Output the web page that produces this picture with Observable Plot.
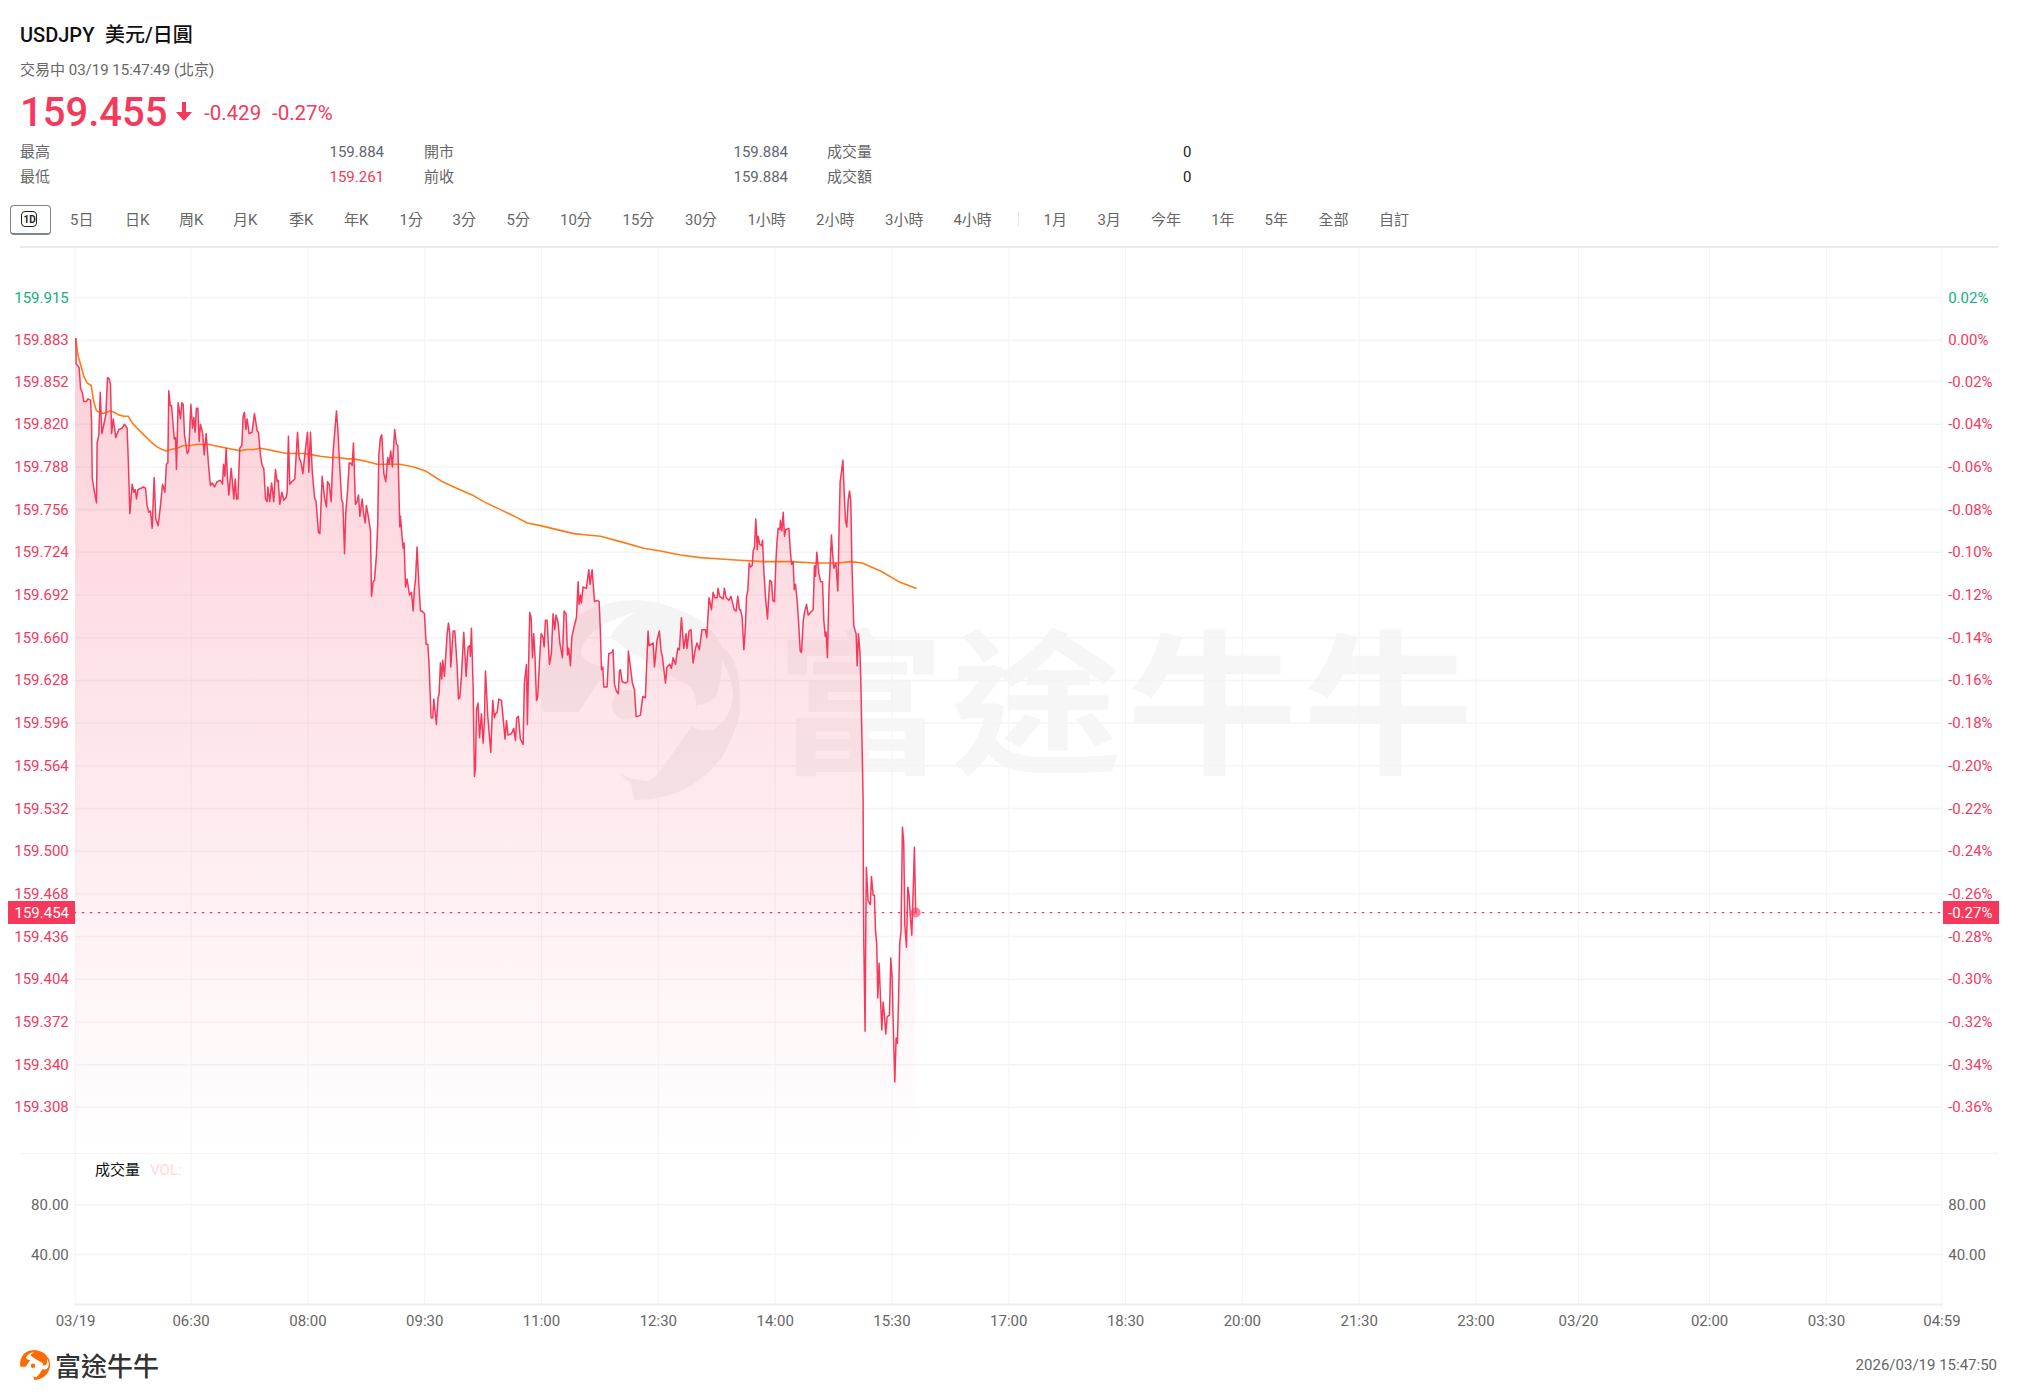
<!DOCTYPE html>
<html lang="zh-Hant">
<head>
<meta charset="utf-8">
<title>USDJPY</title>
<script src="https://cdn.jsdelivr.net/npm/d3@7"></script>
<script src="https://cdn.jsdelivr.net/npm/@observablehq/plot@0.6"></script>
<style>
html,body{margin:0;padding:0;background:#fff;}
#page{position:relative;width:2018px;height:1399px;overflow:hidden;font-family:Roboto,"Noto Sans CJK TC",sans-serif;color:#666;}
.t{position:absolute;white-space:pre;line-height:1;}
.c{transform:translateY(-50%);}
svg.chart{position:absolute;left:0;z-index:2;}
</style>
</head>
<body>
<div id="page"></div>
<script>
// minutes after 05:00 on 03/19
const priceMinutes = [
1.2,1.4,2.7,3.8,4.8,6.1,7.3,9.4,10.4,12.5,13.3,13.8,15,17.1,17.6,18.9,20,21.2,22.8,24.3,25.6,26.9,27.9,28.7,30,32,34.3,36.9,38.7,40.7,41.8,42.8,44.6,45.9,46.9,47.9,49,51.5,53.1,54.9,56.1,57.4,58.7,60,61.5,62.8,64.6,66.4,68,69.8,71,72.1,72.8,73.9,74.9,77,78,78.7,80,81.8,82.8,83.9,84.9,87,88.2,89.8,91.1,92.1,93.1,94.1,95.2,96.2,97.2,98.8,100.1,101.6,103.6,104.9,106.2,108,110.1,112.6,114.2,115,116,117,118,119.1,120.9,122.9,124,125,126,127.5,129.1,130.1,131.1,132.2,133.2,134.7,137,138.8,140.9,141.9,143.4,144.7,146,147.3,148.6,149.1,150.6,152,153.7,155,156.3,157.1,158.3,159.9,161.4,163.2,164,165,166,167.9,169.9,172,173.2,174.8,176.1,178.1,179.7,180.7,182,183.3,185.1,186.3,188.1,189.2,191,192.8,194.3,195.1,196.4,197.9,199.4,202,203,204.6,205.9,206.9,208.2,209.2,210.7,211.8,212.8,214.1,215.1,216.6,217.9,219,220,221.8,222.8,224.1,225.1,226.7,228.2,229,230.3,231.3,232.8,233.8,234.6,235.9,236.9,238.5,240,241.5,242.6,243.8,245.1,246.9,248.2,249.3,250.8,
251.3,252.6,253.4,254.1,255.2,256.4,258.2,259.8,261.1,262.1,262.9,264.1,265.4,266.7,268,269.8,271.1,272.4,273.4,274.9,276.2,277,279,280.3,281.1,282.1,283.1,283.9,285.2,287.3,288.3,289.3,290.1,291.9,293.2,295,296,297,298.3,300.1,301.9,303.4,304.7,305.2,306,307.3,308.3,309.1,309.9,311.1,312.2,313.7,315,316,316.8,318.6,320.9,322.4,323.7,324.5,325.8,327.1,329.1,330.6,331.9,333,334.2,336.8,338.6,339.9,340.9,342.2,343.7,345.8,346.8,348.4,349.1,350.9,352,353,354,355,356.1,357.1,358.6,359.7,361.2,362,363,364.3,366.1,367.6,368.9,370.2,371.2,372.8,374.1,376.1,377.4,378.9,380,381,382.3,383.3,384.8,386.9,388.2,388.9,390,390.7,392,394.6,396.4,397.4,399,400.8,402.8,404.4,405.4,406.2,407.2,408,410.5,411.8,414.4,415.1,416.2,417.7,419.2,420,420.8,422.1,424.6,426.4,426.9,428.5,430,431.6,432.9,434.1,436.2,438,440,442.1,442.9,446,447,449,450.8,452.1,453.1,455.5,456.7,458.8,460.1,461.4,463.2,465,466.2,467.8,469.6,471.4,472.1,473.7,475.2,476.8,478.6,479.8,481.6,483.7,486.3,487.3,489.1,490.9,492.2,493.5,495.3,496,497.3,499.9,500.9,502.2,504.3,506,508.4,509.9,511.2,512.5,
513.3,514.6,515.9,517.2,517.9,519,520,521,522.3,523.1,524.1,525.1,526.2,526.9,528.2,529.5,530.3,531.3,532.6,534.1,535.1,535.9,537.2,538.2,539.5,540.5,541.3,542.3,543.6,544.1,545.2,546.2,547.2,548.2,550.6,551.8,552.6,553.9,554.7,555.7,557.2,558.3,559.3,560.3,561.6,562.6,564.2,565.5,567.3,569.3,570.3,571.1,572.1,573.7,575,576.5,577.5,578.6,579.3,580.3,581.4,582.4,583.4,584.2,585.2,586.8,588.3,589.3,590.1,591.1,592.2,593.4,594.2,595.2,596.3,597.3,598.3,599.1,599.9,600.6,601.7,602.4,603.2,604.2,605.3,606,
607.8,608,608.3,609.3,609.8,610.3,611.6,612.6,613.4,614.2,615.5,616.5,617.3,618.3,619.1,620.1,621.1,622.2,623.2,624.2,625.2,626.3,628.1,629.1,630.1,631.1,632.2,633.2,634.2,635.2,636,637,638.1,639.1,639.9,641.2,642.2,643.2,644.2,645.3,646.3,647.3,648.3];
const priceValues = [
159.884,159.865,159.864,159.862,159.847,159.844,159.837,159.837,159.839,159.838,159.822,159.780,159.772,159.761,159.806,159.812,159.844,159.813,159.820,159.827,159.855,159.854,159.850,159.813,159.824,159.810,159.816,159.817,159.820,159.817,159.787,159.753,159.775,159.769,159.771,159.764,159.771,159.772,159.773,159.772,159.759,159.754,159.755,159.742,159.780,159.749,159.744,159.759,159.775,159.769,159.790,159.791,159.845,159.834,159.834,159.809,159.810,159.786,159.836,159.824,159.836,159.835,159.812,159.798,159.800,159.835,159.817,159.825,159.814,159.832,159.832,159.807,159.820,159.814,159.797,159.813,159.787,159.774,159.776,159.773,159.777,159.778,159.775,159.790,159.781,159.802,159.780,159.767,159.787,159.764,159.779,159.764,159.764,159.802,159.804,159.826,159.829,159.816,159.824,159.813,159.814,159.828,159.815,159.814,159.797,159.789,159.787,159.764,159.762,159.773,159.762,159.776,159.762,159.786,159.777,159.778,159.760,159.769,159.763,159.765,159.769,159.811,159.775,159.777,159.779,159.814,159.795,159.791,159.783,159.801,159.814,159.784,159.814,159.785,159.765,159.762,159.739,159.738,159.781,159.765,159.758,159.777,159.775,159.762,159.799,159.830,159.817,159.787,159.764,159.761,159.723,159.754,159.772,159.791,159.791,159.789,159.806,159.760,159.762,159.767,159.751,159.764,159.754,159.746,159.759,159.750,159.740,159.691,159.702,159.703,159.722,159.745,159.796,159.810,159.812,159.783,159.777,159.795,159.790,159.800,159.788,159.816,159.805,159.804,159.743,
159.751,159.735,159.727,159.731,159.698,159.704,159.692,159.694,159.680,159.697,159.703,159.728,159.701,159.680,159.680,159.678,159.655,159.655,159.638,159.600,159.600,159.614,159.595,159.615,159.618,159.641,159.629,159.643,159.631,159.663,159.671,159.663,159.638,159.665,159.665,159.638,159.614,159.615,159.631,159.664,159.631,159.653,159.654,159.646,159.667,159.623,159.556,159.563,159.606,159.611,159.585,159.603,159.581,159.598,159.635,159.601,159.574,159.613,159.600,159.603,159.604,159.614,159.613,159.598,159.584,159.598,159.587,159.588,159.592,159.583,159.600,159.601,159.584,159.580,159.626,159.640,159.595,159.679,159.675,159.645,159.663,159.645,159.613,159.616,159.645,159.663,159.660,159.653,159.673,159.673,159.640,159.648,159.678,159.666,159.677,159.671,159.656,159.645,159.680,159.678,159.647,159.652,159.639,159.660,159.667,159.675,159.702,159.685,159.692,159.686,159.698,159.697,159.711,159.700,159.711,159.687,159.688,159.687,159.663,159.636,159.638,159.623,159.623,159.648,159.649,159.651,159.625,159.620,159.618,159.635,159.636,159.627,159.626,159.627,159.650,159.638,159.626,159.621,159.601,159.601,159.602,159.616,159.615,159.665,159.654,159.656,159.638,159.658,159.665,159.650,159.646,159.626,159.638,159.640,159.637,159.645,159.640,159.652,159.651,159.675,159.652,159.663,159.652,159.665,159.666,159.641,159.652,159.656,159.651,159.666,159.666,159.660,159.690,159.681,159.694,159.690,159.690,159.697,159.691,159.689,159.697,159.690,159.688,159.691,159.681,159.680,159.691,159.681,
159.681,159.675,159.651,159.670,159.690,159.696,159.716,159.713,159.714,159.725,159.728,159.749,159.726,159.736,159.730,159.729,159.733,159.710,159.690,159.674,159.691,159.703,159.702,159.688,159.687,159.715,159.730,159.742,159.741,159.748,159.740,159.754,159.736,159.741,159.742,159.724,159.715,159.717,159.696,159.700,159.685,159.668,159.650,159.649,159.672,159.679,159.685,159.677,159.679,159.681,159.714,159.706,159.724,159.708,159.702,159.702,159.673,159.661,159.664,159.645,159.693,159.715,159.737,159.724,159.712,159.716,159.695,159.743,159.777,159.784,159.793,159.764,159.748,159.743,159.763,159.770,159.762,159.718,159.690,159.669,159.665,159.663,159.639,159.663,159.650,159.628,
159.538,159.473,159.433,159.365,159.438,159.488,159.463,159.461,159.460,159.481,159.467,159.467,159.441,159.430,159.390,159.416,159.391,159.366,159.387,159.377,159.363,159.376,159.377,159.420,159.406,159.366,159.327,159.360,159.356,159.393,159.431,159.440,159.518,159.506,159.445,159.428,159.473,159.467,159.451,159.437,159.468,159.503,159.454];
const avgMinutes = [1.2,2.7,4.8,7.3,9.9,13,15,17.1,19.7,22.2,24.8,27.9,30.5,34.3,38.2,41.5,44.6,48.4,53.6,58.7,63.8,67.7,71,74.1,79.2,84.4,89.5,94.6,99.8,103.6,107.5,112.6,117.8,122.9,127.5,133.2,138.3,143.4,148.6,153.7,158.8,164,169.1,176.8,183.3,189.7,197.4,203.8,210.2,215.4,225.6,233.3,243.6,250.8,261.6,270.6,277,283.4,292.4,306.5,315.5,328.3,341.2,348.9,359.2,372,384.8,395.1,405.4,420.8,438.8,451.6,467,482.4,497.8,512.5,531.3,551.8,569.8,587.8,598.1,607.1,621.2,635.3,648.4];
const avgValues = [159.884,159.872,159.865,159.856,159.851,159.849,159.837,159.830,159.829,159.828,159.829,159.830,159.829,159.827,159.826,159.826,159.821,159.817,159.812,159.807,159.803,159.801,159.800,159.801,159.802,159.804,159.804,159.805,159.805,159.805,159.804,159.803,159.802,159.801,159.800,159.801,159.801,159.802,159.801,159.800,159.799,159.798,159.798,159.798,159.797,159.796,159.795,159.795,159.794,159.794,159.792,159.790,159.790,159.790,159.788,159.785,159.781,159.777,159.773,159.767,159.762,159.756,159.750,159.746,159.744,159.741,159.738,159.737,159.736,159.732,159.727,159.725,159.722,159.720,159.719,159.718,159.717,159.717,159.716,159.716,159.717,159.716,159.710,159.702,159.697];
const priceTicks = [159.915,159.883,159.852,159.820,159.788,159.756,159.724,159.692,159.660,159.628,159.596,159.564,159.532,159.500,159.468,159.436,159.404,159.372,159.340,159.308];
const pctLabels = ["0.02%","0.00%","-0.02%","-0.04%","-0.06%","-0.08%","-0.10%","-0.12%","-0.14%","-0.16%","-0.18%","-0.20%","-0.22%","-0.24%","-0.26%","-0.28%","-0.30%","-0.32%","-0.34%","-0.36%"];
const volumeTicks = [40,80];
const timeTicks = [1,90,180,270,360,450,540,630,720,810,900,990,1080,1159,1260,1350,1439];
const timeLabels = ["03/19","06:30","08:00","09:30","11:00","12:30","14:00","15:30","17:00","18:30","20:00","21:30","23:00","03/20","02:00","03:30","04:59"];
const lastPrice = 159.454, lastPct = "-0.27%";
const periodTabs = [["5日",70],["日K",125],["周K",179],["月K",233],["季K",289],["年K",344],["1分",399.5],["3分",452.5],["5分",506.5],["10分",560],["15分",622.5],["30分",685],["1小時",747.4],["2小時",816],["3小時",885],["4小時",953.4],["1月",1043.5],["3月",1097.4],["今年",1151],["1年",1211.2],["5年",1264.5],["全部",1318.5],["自訂",1379]];

const RED = "#f5395c", GREEN = "#10b27d", ORANGE = "#ff7a14", GRID = "#f4f4f5", AXIS = "#666";
const page = document.getElementById("page");
function txt(s, x, y, o = {}) {
  const e = document.createElement("div");
  e.className = "t c";
  e.textContent = s;
  e.style.top = y + "px";
  if (o.right != null) e.style.right = (2018 - o.right) + "px"; else e.style.left = x + "px";
  e.style.fontSize = (o.size || 15) + "px";
  if (o.weight) e.style.fontWeight = o.weight;
  e.style.color = o.color || "#666";
  if (o.family) e.style.fontFamily = o.family;
  if (o.z) e.style.zIndex = o.z;
  page.appendChild(e);
  return e;
}
function box(x, y, w, h, css) {
  const e = document.createElement("div");
  e.style.cssText = `position:absolute;left:${x}px;top:${y}px;width:${w}px;height:${h}px;${css}`;
  page.appendChild(e);
  return e;
}

// Futu mark, used as the page logo and as the watermark
const markPath = "M543 712L579 712L607 668Q575 660 582 647Q590 625 636 612Q620 620 610 637Q640 660 691 687Q702 705 691 727L661 770Q650 785 643 780Q628 780 619 772Q625 780 631 783L634 800Q690 800 722 757Q745 715 740 697Q740 660 722 647Q710 620 679 610Q655 600 637 600Q610 600 588 610Q560 625 552 647Q540 670 540 690ZM722 660Q733 680 733 697Q730 715 722 723Q712 732 704 730Q695 730 691 725Q697 715 697 705Q705 705 716 697Q722 680 722 660ZM612 705A15 15 0 1 0 642 705A15 15 0 1 0 612 705Z";
function mark(x, y, size, color, z) {
  const s = d3.create("svg").attr("viewBox", "540 600 200 200").attr("width", size).attr("height", size)
    .style("position", "absolute").style("left", x + "px").style("top", y + "px").style("z-index", z);
  s.append("path").attr("d", markPath).attr("fill", color).attr("fill-rule", "evenodd");
  page.appendChild(s.node());
}

// Header
txt("USDJPY", 20, 35, {size: 20, weight: 500, color: "#111"});
txt("美元/日圓", 105, 35, {size: 20, weight: 500, color: "#111"});
txt("交易中 03/19 15:47:49 (北京)", 20, 70);
txt("159.455", 20, 113, {size: 40, weight: 500, color: RED});
const arrow = d3.create("svg").attr("width", 18).attr("height", 20).attr("viewBox", "0 0 18 20")
  .style("position", "absolute").style("left", "175px").style("top", "102px");
arrow.append("path").attr("d", "M7 0H11V10H17L9 19L1 10H7Z").attr("fill", RED);
page.appendChild(arrow.node());
txt("-0.429", 204, 113, {size: 20.5, color: RED});
txt("-0.27%", 272, 113, {size: 20.5, color: RED});
[["最高", "159.884", "開市", "159.884", "成交量", "0", 152, "#5f6672"],
 ["最低", "159.261", "前收", "159.884", "成交額", "0", 177, RED]].forEach(([a, b, c, d, e, f, y, col]) => {
  txt(a, 20, y); txt(b, 0, y, {right: 384, color: col});
  txt(c, 424, y); txt(d, 0, y, {right: 788, color: "#5f6672"});
  txt(e, 827, y); txt(f, 0, y, {right: 1191.5, color: "#222"});
});

// Toolbar
box(10, 205, 39, 27, "border:1px solid #7b8494;border-bottom-width:2px;border-radius:4px;background:#fff;");
box(21, 211, 16, 16, "border:1.5px solid #222;border-radius:4px;box-sizing:border-box;");
txt("1D", 23.5, 219.5, {size: 10, weight: 700, color: "#222"});
periodTabs.forEach(([s, x]) => txt(s, x, 220));
box(1018, 212, 1, 14, "background:#e6e6e6;");
box(20, 246, 1978, 2, "background:#e9e9e9;");
box(20, 1152.5, 1978, 1.5, `background:${GRID};`);

// Watermark, behind the transparent charts
mark(540, 600, 200, "#f4f4f4", 1);
const wm = txt("富途牛牛", 775, 693, {size: 155, weight: 700, color: "#f6f6f6", family: '"Noto Sans CJK SC"', z: 1});
wm.style.transform = "translateY(-50%) scaleX(1.1)";
wm.style.transformOrigin = "left center";
wm.style.letterSpacing = "5px";

// Price panel
const priceRows = priceMinutes.map((m, i) => ({m, p: priceValues[i]}));
const avgRows = avgMinutes.map((m, i) => ({m, p: avgValues[i]}));
const yTop = 159.9517, yBase = 159.2734;
const pctByPrice = new Map(priceTicks.map((p, i) => [p, pctLabels[i]]));
const tickColor = d => d > 159.884 ? GREEN : RED;
const fade = () => {
  const defs = d3.create("svg:defs");
  const g = defs.append("linearGradient").attr("id", "priceFade").attr("x1", 0).attr("x2", 0).attr("y1", 0).attr("y2", 1);
  g.append("stop").attr("offset", 0).attr("stop-color", RED).attr("stop-opacity", 0.24);
  g.append("stop").attr("offset", 1).attr("stop-color", RED).attr("stop-opacity", 0);
  return defs.node();
};
const common = {
  width: 2018, marginLeft: 73.8, marginRight: 75.3,
  style: {background: "transparent", fontFamily: 'Roboto,"Noto Sans CJK TC",sans-serif', fontSize: "15px"},
  className: "chart"
};
const priceChart = Plot.plot({
  ...common, height: 905, marginTop: 0, marginBottom: 0,
  x: {domain: [0, 1440], axis: null},
  y: {domain: [yBase, yTop], axis: null},
  marks: [
    fade,
    Plot.gridX(timeTicks, {stroke: GRID, strokeOpacity: 1, strokeWidth: 1}),
    Plot.gridY(priceTicks, {stroke: GRID, strokeOpacity: 1, strokeWidth: 1.5}),
    Plot.areaY(priceRows, {x: "m", y1: yBase, y2: "p", fill: "url(#priceFade)"}),
    Plot.axisY(priceTicks, {anchor: "left", tickSize: 0, tickPadding: 5.5, label: null, fill: tickColor, dy: 0.3, tickFormat: d3.format(".3f")}),
    Plot.axisY(priceTicks, {anchor: "right", tickSize: 0, tickPadding: 5, label: null, fill: tickColor, dy: 0.3, tickFormat: d => pctByPrice.get(d)}),
    Plot.ruleY([lastPrice], {stroke: RED, strokeWidth: 1.2, strokeDasharray: "2.5 5.5"}),
    Plot.line(avgRows, {x: "m", y: "p", stroke: ORANGE, strokeWidth: 1.6}),
    Plot.line(priceRows, {x: "m", y: "p", stroke: RED, strokeWidth: 1.5}),
    Plot.dot([priceRows[priceRows.length - 1]], {x: "m", y: "p", r: 5, fill: RED, fillOpacity: 0.6, stroke: "none"})
  ]
});
priceChart.style.top = "248px";
page.appendChild(priceChart);

// Current-price tags sit on the y scale
const lastY = 248 + priceChart.scale("y").apply(lastPrice);
box(8, lastY - 11.5, 67, 23, `background:${RED};z-index:3;`);
box(1942.7, lastY - 11.5, 56, 23, `background:${RED};z-index:3;`);
txt("159.454", 0, lastY + 0.5, {right: 69, color: "#fff", z: 4});
txt(lastPct, 1948, lastY + 0.5, {color: "#fff", z: 4});

// Volume panel
const volumeChart = Plot.plot({
  ...common, height: 190, marginTop: 0, marginBottom: 39,
  x: {domain: [0, 1440], axis: null},
  y: {domain: [0, 121], axis: null},
  marks: [
    Plot.gridX(timeTicks, {stroke: GRID, strokeOpacity: 1, strokeWidth: 1}),
    Plot.gridY(volumeTicks, {stroke: GRID, strokeOpacity: 1, strokeWidth: 1.5}),
    Plot.ruleY([0], {stroke: "#eeeeee", strokeWidth: 2}),
    Plot.axisY(volumeTicks, {anchor: "left", tickSize: 0, tickPadding: 5.5, label: null, fill: AXIS, dy: 0.3, tickFormat: d3.format(".2f")}),
    Plot.axisY(volumeTicks, {anchor: "right", tickSize: 0, tickPadding: 5, label: null, fill: AXIS, dy: 0.3, tickFormat: d3.format(".2f")}),
    Plot.axisX(timeTicks, {anchor: "bottom", tickSize: 0, tickPadding: 11, label: null, fill: AXIS, tickFormat: d => timeLabels[timeTicks.indexOf(d)]})
  ]
});
volumeChart.style.top = "1153px";
page.appendChild(volumeChart);
txt("成交量", 95, 1170, {color: "#111", z: 3});
txt("VOL:", 150, 1170, {color: "#ffd9d9", z: 3});

// Footer
mark(20, 1350, 30, "#ff6a00", 1);
txt("富途牛牛", 55, 1365, {size: 26, weight: 500, color: "#333", family: '"Noto Sans CJK SC"'});
txt("2026/03/19 15:47:50", 0, 1365, {right: 1997});
</script>
</body>
</html>
